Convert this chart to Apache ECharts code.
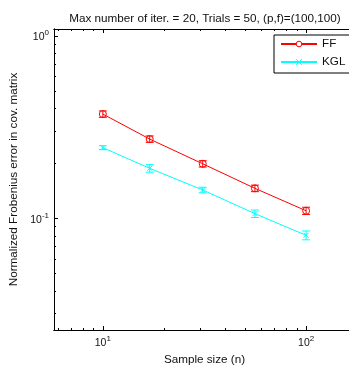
<!DOCTYPE html>
<html><head><meta charset="utf-8">
<script src="https://cdn.jsdelivr.net/npm/echarts@6/dist/echarts.min.js"></script>
<style>html,body{margin:0;padding:0;background:#fff}#c{width:349px;height:369px}</style>
</head><body><div id="c"></div>
<script>
// ---- data ----
const sampleSizes = [10, 17, 31, 56, 100];
const ffValues  = [0.373, 0.272, 0.199, 0.146, 0.110];
const ffErr     = [0.015, 0.011, 0.008, 0.006, 0.005];
const kglValues = [0.244, 0.188, 0.143, 0.106, 0.0807];
const kglErr    = [0.006, 0.009, 0.005, 0.005, 0.0045];
const xMajorTicks = [10, 100];
const xMinorTicks = [6, 7, 8, 9, 20, 30, 40, 50, 60, 70, 80, 90];
const yMajorTicks = [0.1, 1];
const yMinorTicks = [0.03, 0.04, 0.05, 0.06, 0.07, 0.08, 0.09, 0.2, 0.3, 0.4, 0.5, 0.6, 0.7, 0.8, 0.9];
const xRange = [5.75, 174];
const yRange = [0.0244, 1.092];
const titleText = 'Max number of iter. = 20, Trials = 50, (p,f)=(100,100)';
const xName = 'Sample size (n)';
const yName = 'Normalized Frobenius error in cov. matrix';
const seriesNames = ['FF', 'KGL'];
const seriesColors = ['#ff0000', '#00ffff'];

const FONT = '"Liberation Sans", Arial, sans-serif';
const TXT = '#111';
const FS = 11.7;

const chart = echarts.init(document.getElementById('c'), null, {renderer: 'canvas'});

function powLabel(v) {
  const e = Math.round(Math.log10(v));
  return '{b|10}{s|' + e + '}';
}
const rich = {
  b: {fontSize: 10.5, fontFamily: FONT, color: TXT, lineHeight: 14, verticalAlign: 'bottom'},
  s: {fontSize: 8, fontFamily: FONT, color: TXT, lineHeight: 14, verticalAlign: 'top', padding: [0, 0, 6, 0]}
};

function axisX(pos, major, withLabel) {
  return {
    type: 'log', logBase: 10, position: pos, min: xRange[0], max: xRange[1],
    gridIndex: 0,
    axisLine: {show: true, onZero: false, lineStyle: {color: '#000', width: 1}},
    axisTick: {show: true, inside: true, length: major ? 4 : 2, customValues: major ? xMajorTicks : xMinorTicks,
               lineStyle: {color: '#000', width: 1}},
    axisLabel: withLabel ? {show: true, customValues: xMajorTicks, formatter: powLabel, rich: rich, margin: 5}
                         : {show: false},
    splitLine: {show: false},
    name: withLabel ? xName : '',
    nameLocation: 'middle', nameGap: 20,
    nameTextStyle: {fontSize: FS, fontFamily: FONT, color: TXT}
  };
}
function axisY(pos, major, withLabel) {
  return {
    type: 'log', logBase: 10, position: pos, min: yRange[0], max: yRange[1],
    gridIndex: 0,
    axisLine: {show: true, onZero: false, lineStyle: {color: '#000', width: 1}},
    axisTick: {show: true, inside: true, length: major ? 4 : 2, customValues: major ? yMajorTicks : yMinorTicks,
               lineStyle: {color: '#000', width: 1}},
    axisLabel: withLabel ? {show: true, customValues: yMajorTicks, formatter: powLabel, rich: rich, margin: 5}
                         : {show: false},
    splitLine: {show: false},
    name: withLabel ? yName : '',
    nameLocation: 'middle', nameGap: 30, nameRotate: 90,
    nameTextStyle: {fontSize: FS, fontFamily: FONT, color: TXT}
  };
}

function errSeries(name, vals, errs, color) {
  return {
    type: 'custom', name: name + ' err', xAxisIndex: 0, yAxisIndex: 0, silent: true,
    data: sampleSizes.map((x, i) => [x, vals[i] - errs[i], vals[i] + errs[i]]),
    encode: {x: 0, y: [1, 2]},
    renderItem: function (params, api) {
      const x = api.value(0);
      const p1 = api.coord([x, api.value(1)]);
      const p2 = api.coord([x, api.value(2)]);
      const w = 4;
      const st = {stroke: color, lineWidth: 1};
      return {type: 'group', children: [
        {type: 'line', shape: {x1: p1[0], y1: p1[1], x2: p2[0], y2: p2[1]}, style: st},
        {type: 'line', shape: {x1: p1[0] - w, y1: p1[1], x2: p1[0] + w, y2: p1[1]}, style: st},
        {type: 'line', shape: {x1: p2[0] - w, y1: p2[1], x2: p2[0] + w, y2: p2[1]}, style: st}
      ]};
    },
    z: 3
  };
}

const option = {
  animation: false,
  backgroundColor: '#fff',
  title: {
    text: titleText, left: 200, textAlign: 'center', top: 8,
    textStyle: {fontSize: FS, fontWeight: 'normal', fontFamily: FONT, color: TXT}
  },
  grid: {left: 54, top: 29, width: 301, bottom: 39, containLabel: false, outerBoundsMode: 'none', show: false},
  legend: {
    data: seriesNames,
    orient: 'vertical', left: 274, top: 35,
    itemWidth: 36, itemHeight: 7, itemGap: 6,
    padding: [3, 13, 5, 6],
    borderColor: '#000', borderWidth: 1, backgroundColor: '#fff',
    itemStyle: {color: '#fff', borderWidth: 1},
    textStyle: {fontSize: FS, fontFamily: FONT, color: TXT}
  },
  xAxis: [axisX('bottom', true, true), axisX('bottom', false, false), axisX('top', true, false), axisX('top', false, false)],
  yAxis: [axisY('left', true, true), axisY('left', false, false), axisY('right', true, false), axisY('right', false, false)],
  series: [
    errSeries(seriesNames[0], ffValues, ffErr, seriesColors[0]),
    errSeries(seriesNames[1], kglValues, kglErr, seriesColors[1]),
    {
      type: 'line', name: seriesNames[0], xAxisIndex: 0, yAxisIndex: 0,
      data: sampleSizes.map((x, i) => [x, ffValues[i]]),
      symbol: 'circle', symbolSize: 7, showAllSymbol: true,
      lineStyle: {color: seriesColors[0], width: 1},
      itemStyle: {color: 'rgba(255,255,255,0)', borderColor: seriesColors[0], borderWidth: 1},
      z: 4
    },
    {
      type: 'line', name: seriesNames[1], xAxisIndex: 0, yAxisIndex: 0,
      data: sampleSizes.map((x, i) => [x, kglValues[i]]),
      symbol: 'path://M0,0L10,10M10,0L0,10', symbolSize: 5, showAllSymbol: true,
      lineStyle: {color: seriesColors[1], width: 1},
      itemStyle: {color: 'rgba(255,255,255,0)', borderColor: seriesColors[1], borderWidth: 1},
      z: 4
    }
  ]
};
chart.setOption(option);
</script>
</body></html>
